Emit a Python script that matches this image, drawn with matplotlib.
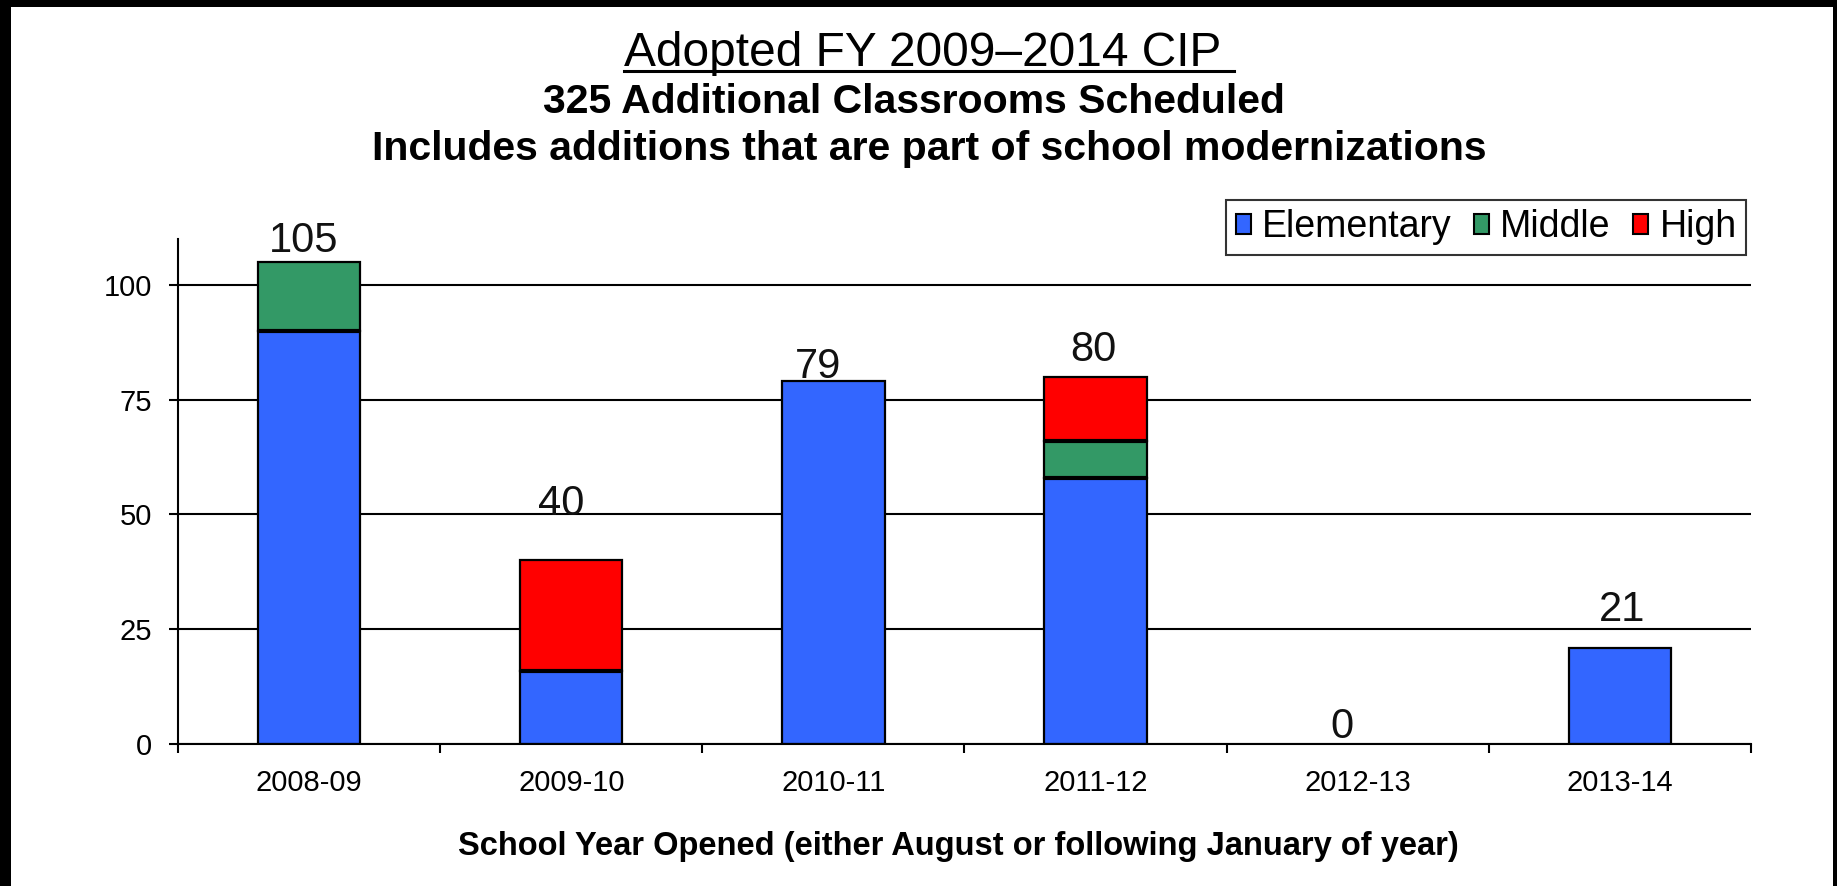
import numpy as np
import matplotlib
matplotlib.use("Agg")
import matplotlib.pyplot as plt
from matplotlib.patches import Rectangle, Patch
from matplotlib.lines import Line2D

plt.rcParams['font.family'] = ['Liberation Sans', 'DejaVu Sans']

# data
years = ["2008-09", "2009-10", "2010-11", "2011-12", "2012-13", "2013-14"]
elementary = [90, 16, 79, 58, 0, 21]
middle = [15, 0, 0, 8, 0, 0]
high = [0, 24, 0, 14, 0, 0]
series_names = ["Elementary", "Middle", "High"]

# total label placement (data units), Excel put them a bit irregularly
label_dy = [2.2, 9.9, 0.7, 3.4, 1.3, 5.8]
label_dx = [-0.02, -0.04, -0.06, -0.01, -0.06, 0.01]

colors = ["#3366FF", "#339966", "#FF0000"]

W, H = 1837, 886
fig = plt.figure(figsize=(W / 100, H / 100), dpi=100)
fig.patch.set_facecolor("black")
fig.add_artist(Rectangle((11 / W, 0), (1833 - 11) / W, 1 - 7 / H,
                         transform=fig.transFigure, facecolor="white",
                         edgecolor="none", zorder=-10))

ax = fig.add_axes([178 / W, 1 - 744 / H, (1751 - 178) / W, (744 - 239) / H])
ax.set_zorder(2)
ax.set_facecolor("white")

xs = np.arange(len(years))
bw = 0.39
stacks = [elementary, middle, high]
bottom = np.zeros(len(years))
for k, (vals, col) in enumerate(zip(stacks, colors)):
    vals = np.array(vals, dtype=float)
    mask = vals > 0
    ax.bar(xs[mask], vals[mask], bottom=bottom[mask], width=bw, color=col,
           edgecolor="black", linewidth=1.6, zorder=3)
    # heavier seam between stacked segments
    seam = mask & (bottom > 0)
    if seam.any():
        ax.hlines(bottom[seam], xs[seam] - bw / 2, xs[seam] + bw / 2,
                  color="black", linewidth=3, zorder=3.5)
    bottom += vals

totals = bottom
for x, t, dx, dy in zip(xs, totals, label_dx, label_dy):
    ax.text(x + dx, t + dy, "%d" % t, ha="center", va="baseline",
            fontsize=30, color="#111111", clip_on=False, zorder=4)

ax.set_xlim(-0.5, len(years) - 0.5)
ax.set_ylim(0, 110)
ax.set_yticks([0, 25, 50, 75, 100])
ax.yaxis.grid(True, color="black", linewidth=1.5, zorder=1)
ax.set_axisbelow(True)

ax.set_xticks(xs, years)
ax.set_xticks(np.arange(-0.5, len(years)), minor=True)
ax.tick_params(axis="x", which="major", length=0, pad=18, labelsize=21)
ax.tick_params(axis="x", which="minor", length=6.5, width=1.5, direction="out")
ax.tick_params(axis="y", length=6.5, width=1.5, pad=12, labelsize=21)

for s in ["top", "right"]:
    ax.spines[s].set_visible(False)
for s in ["left", "bottom"]:
    ax.spines[s].set_linewidth(1.5)
    ax.spines[s].set_zorder(5)

# legend
handles = [Patch(facecolor=c, edgecolor="black", linewidth=1.5) for c in colors]
leg = ax.legend(handles, series_names, ncol=3, loc="upper right",
                bbox_to_anchor=(1746 / W, 1 - 200 / H),
                bbox_transform=fig.transFigure, borderaxespad=0,
                fontsize=27, frameon=True, fancybox=False,
                handlelength=0.4, handleheight=0.45, handletextpad=0.3,
                columnspacing=0.6, borderpad=0.25)
leg.get_frame().set_edgecolor("black")
leg.get_frame().set_linewidth(1.5)

# titles
title = fig.text(929 / W, 1 - 66 / H, "Adopted FY 2009\u20132014 CIP ",
                 ha="center", va="baseline", fontsize=34.5)
fig.text(914 / W, 1 - 113 / H, "325 Additional Classrooms Scheduled",
         ha="center", va="baseline", fontsize=29.5, fontweight="bold")
fig.text(929 / W, 1 - 160 / H,
         "Includes additions that are part of school modernizations",
         ha="center", va="baseline", fontsize=29.5, fontweight="bold")
fig.text(958 / W, 1 - 855 / H,
         "School Year Opened (either August or following January of year)",
         ha="center", va="baseline", fontsize=23.5, fontweight="bold")

# underline the main title
fig.canvas.draw()
bb = title.get_window_extent(fig.canvas.get_renderer())
uy = 1 - 71 / H
fig.add_artist(Line2D([bb.x0 / W, bb.x1 / W], [uy, uy], color="black",
                      linewidth=2.2, transform=fig.transFigure))

fig.savefig("out.png", dpi=100, facecolor=fig.get_facecolor())
